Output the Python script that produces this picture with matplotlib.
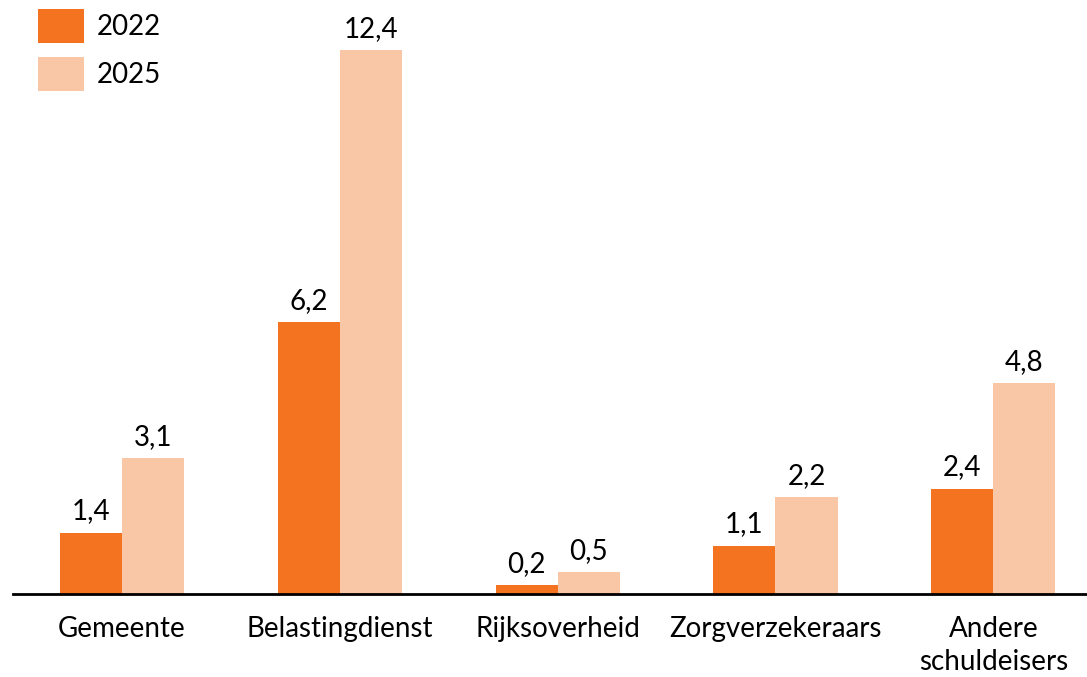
import numpy as np
import matplotlib
matplotlib.use('Agg')
import matplotlib.pyplot as plt

categories = ['Gemeente', 'Belastingdienst', 'Rijksoverheid', 'Zorgverzekeraars', 'Andere\nschuldeisers']
vals_2022 = [1.4, 6.2, 0.2, 1.1, 2.4]
vals_2025 = [3.1, 12.4, 0.5, 2.2, 4.8]
years = ['2022', '2025']

c_dark = '#F37321'
c_light = '#F9C6A6'

plt.rcParams['font.family'] = ['Lato', 'DejaVu Sans']
fs = 20

W, H = 1087, 677
fig = plt.figure(figsize=(W / 100, H / 100), dpi=100)
ax = fig.add_axes([13 / W, 1 - 594 / H, 1 - 13 / W, 594 / H])

x = np.arange(len(categories))
w = 0.285
b1 = ax.bar(x - w / 2, vals_2022, w, color=c_dark, label=years[0])
b2 = ax.bar(x + w / 2, vals_2025, w, color=c_light, label=years[1])

for bars, vals in ((b1, vals_2022), (b2, vals_2025)):
    for r, v in zip(bars, vals):
        ax.annotate(f'{v:.1f}'.replace('.', ','), (r.get_x() + r.get_width() / 2, v),
                    xytext=(0, 6), textcoords='offset points', ha='center', va='bottom',
                    fontsize=fs)

ax.set_xlim(-0.5, 4.43)
ax.set_ylim(0, 594 / 43.87)
ax.set_xticks(x)
ax.set_xticklabels(categories, fontsize=fs, linespacing=1.3)
ax.tick_params(axis='x', length=0, pad=16)
ax.set_yticks([])
for s in ['top', 'right', 'left']:
    ax.spines[s].set_visible(False)
ax.spines['bottom'].set_linewidth(2)

ax.legend(loc='upper left', bbox_to_anchor=(38 / W, 1 - 9 / H), bbox_transform=fig.transFigure,
          frameon=False, fontsize=fs, handlelength=1.65, handleheight=1.5,
          labelspacing=0.5, handletextpad=0.47, borderpad=0, borderaxespad=0)

fig.savefig('out.png', dpi=100)
